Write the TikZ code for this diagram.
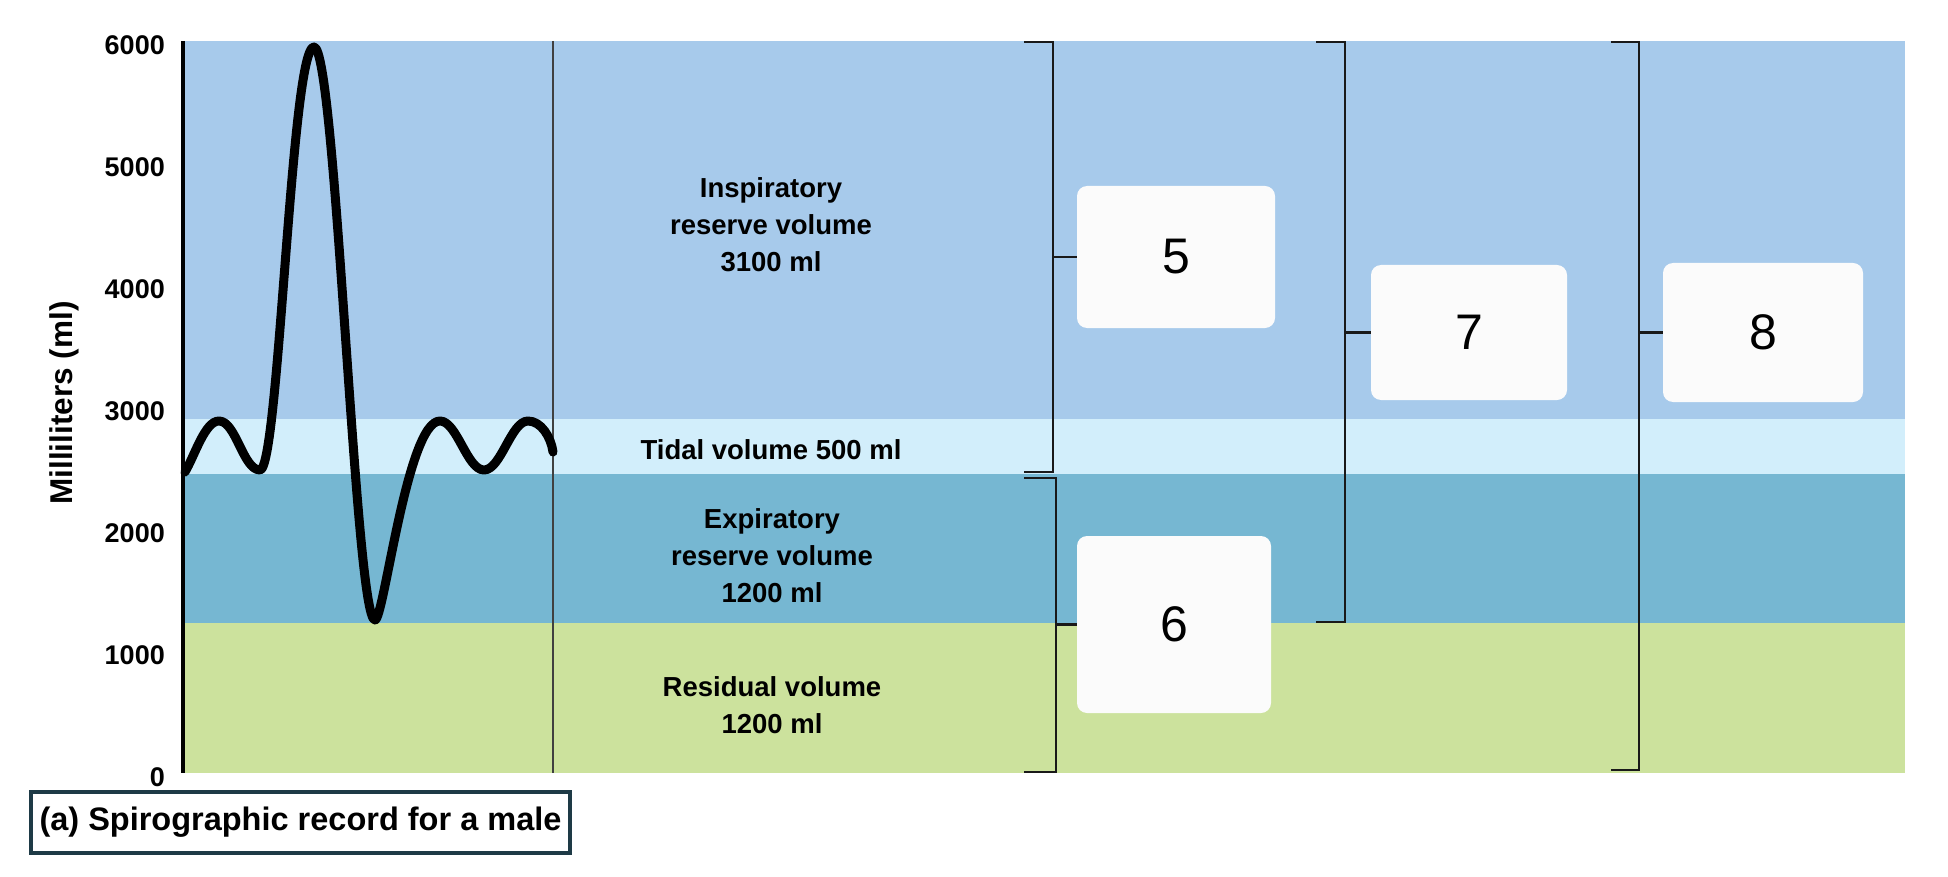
\documentclass[tikz,border=0pt]{standalone}
\usepackage{fontspec}
\setmainfont{Liberation Sans}
\usetikzlibrary{positioning}
\definecolor{irv}{RGB}{167,202,235}
\definecolor{tidal}{RGB}{210,238,251}
\definecolor{erv}{RGB}{118,183,210}
\definecolor{resid}{RGB}{204,226,157}
\definecolor{capline}{RGB}{30,58,70}
\definecolor{boxfill}{RGB}{251,251,251}

\begin{document}
\begin{tikzpicture}[x=1pt,y=-1pt,
	lbl/.style={font=\fontsize{27.5}{37}\selectfont\bfseries,align=center,inner sep=0pt},
	ticklbl/.style={font=\fontsize{27}{30}\selectfont\bfseries,anchor=east,inner sep=0pt},
	numbox/.style={fill=boxfill,rounded corners=10pt,font=\fontsize{50}{50}\selectfont,inner sep=0pt},
	brace/.style={line width=2.2pt,color=black!90},
	spiro/.style={line width=9pt,line cap=round,line join=round}]
	\useasboundingbox (0,0) rectangle (1948,877);
	\fill[white] (0,0) rectangle (1948,877);
	\fill[irv] (183,41) rectangle (1905,419);
	\fill[tidal] (183,419) rectangle (1905,474);
	\fill[erv] (183,474) rectangle (1905,623);
	\fill[resid] (183,623) rectangle (1905,773);
	\draw[line width=1.5pt,color=black!75] (553,41) -- (553,773);
	\draw[line width=4pt] (183,41) -- (183,773);
	\foreach \v [count=\k from 0] in {0,1000,...,6000}
		\node[ticklbl] (t\v) at (165,{777-122*\k}) {\v};
	\node[font=\fontsize{31.5}{32}\selectfont\bfseries,rotate=90] (ylbl) at (64,403) {Milliliters (ml)};
	% spirogram trace
	\draw[spiro] (185,472) .. controls (195,455) and (205,421) .. (219,421)
		.. controls (236,421) and (243,470) .. (260,470)
		.. controls (279,470) and (291,47) .. (314,47)
		.. controls (336,47) and (355,620) .. (375,620)
		.. controls (384,620) and (407,421) .. (440,421)
		.. controls (457,421) and (467,470) .. (484,470)
		.. controls (501,470) and (511,421) .. (528,421)
		.. controls (541,421) and (551,437) .. (553,452);
	\node[lbl] (irvlbl) at (771,225) {Inspiratory\\reserve volume\\3100 ml};
	\node[lbl] (tvlbl) at (771,450) {Tidal volume 500 ml};
	\node[lbl] (ervlbl) at (772,556) {Expiratory\\reserve volume\\1200 ml};
	\node[lbl] (rvlbl) at (772,705) {Residual volume\\1200 ml};
	% brackets and answer boxes
	\node[numbox,minimum width=198pt,minimum height=142pt] (box5) at (1176,257) {5};
	\node[numbox,minimum width=194pt,minimum height=177pt] (box6) at (1174,624.5) {6};
	\node[numbox,minimum width=196pt,minimum height=135pt] (box7) at (1469,332.5) {7};
	\node[numbox,minimum width=200pt,minimum height=139pt] (box8) at (1763,332.5) {8};
	\coordinate (b5t) at (1024,42);
	\coordinate (b5b) at (1024,472);
	\coordinate (s5) at (1053,257);
	\coordinate (b6t) at (1024,478);
	\coordinate (b6b) at (1024,772);
	\coordinate (s6) at (1056,624.5);
	\coordinate (b7t) at (1316,42);
	\coordinate (b7b) at (1316,622);
	\coordinate (s7) at (1345,332.5);
	\coordinate (b8t) at (1611,42);
	\coordinate (b8b) at (1611,770);
	\coordinate (s8) at (1639,332.5);
	\draw[brace] (b5t) -| (s5) |- (b5b);
	\draw[brace] (s5) -- (box5.west);
	\draw[brace] (b6t) -| (s6) |- (b6b);
	\draw[brace] (s6) -- (box6.west);
	\draw[brace] (b7t) -| (s7) |- (b7b);
	\draw[brace] (s7) -- (box7.west);
	\draw[brace] (b8t) -| (s8) |- (b8b);
	\draw[brace] (s8) -- (box8.west);
	\node[draw=capline,line width=4.5pt,minimum width=539pt,minimum height=61pt,inner sep=0pt,font=\fontsize{32.5}{33}\selectfont\bfseries] (caption) at (300.5,822.5) {(a) Spirographic record for a male};
\end{tikzpicture}
\end{document}
